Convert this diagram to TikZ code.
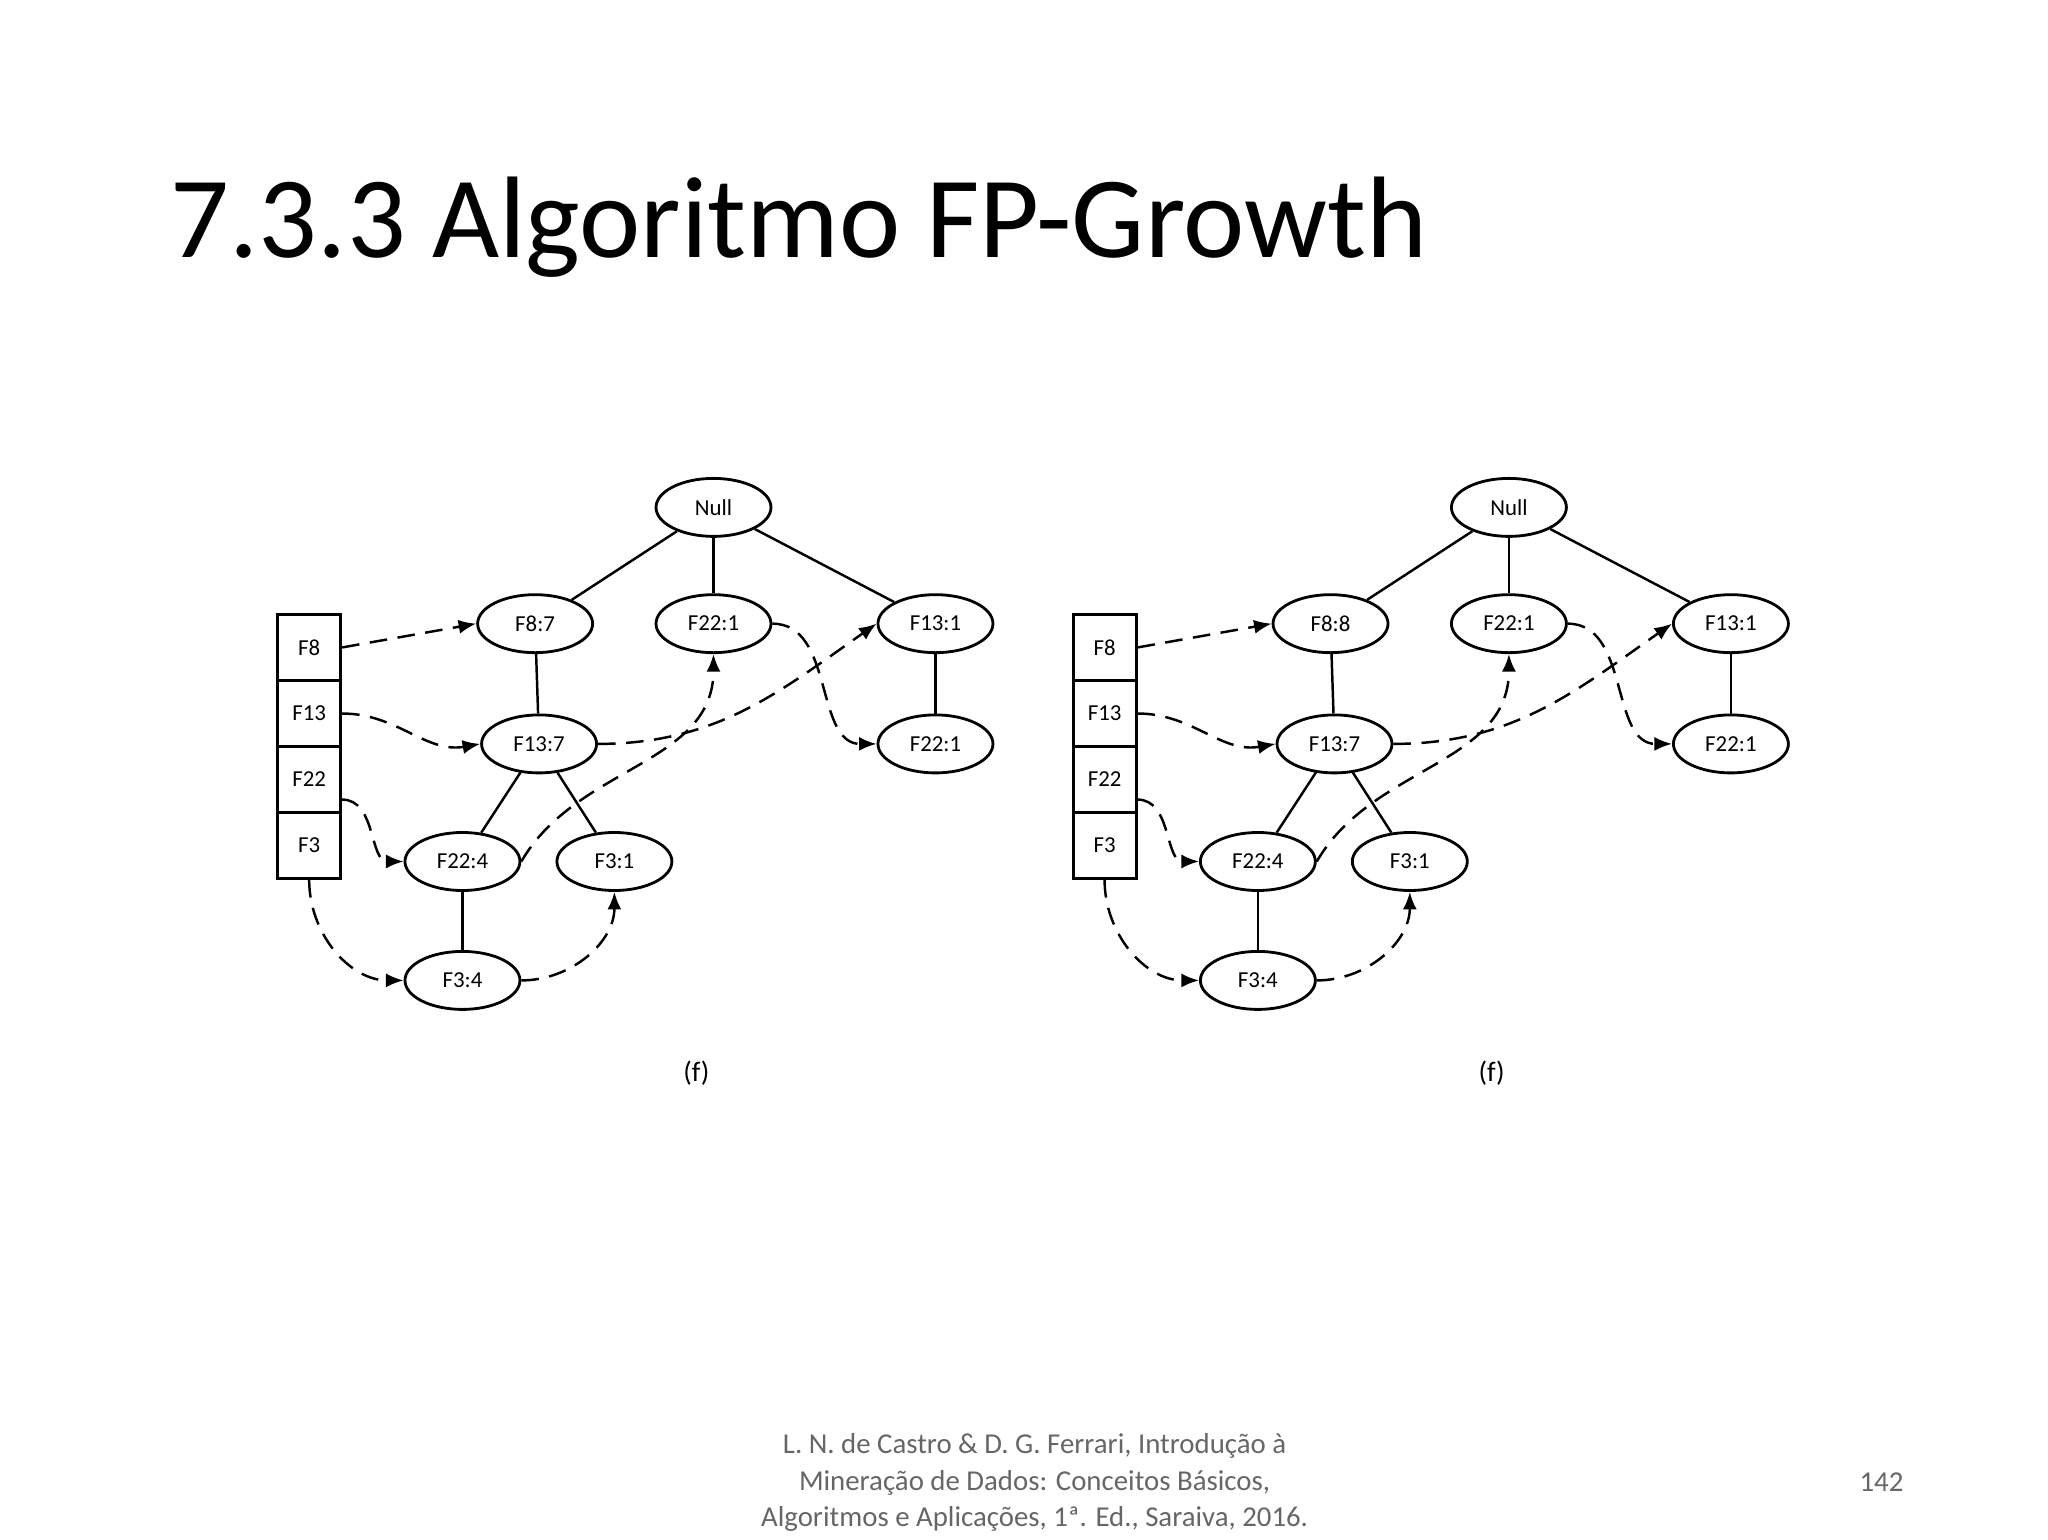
\documentclass[tikz,border=0pt]{standalone}
\usepackage{fontspec}
\setmainfont{Carlito}
\usetikzlibrary{shapes.geometric,arrows.meta}
\tikzset{
 nd/.style={ellipse,draw,line width=0.8pt,minimum width=1.15cm,minimum height=0.58cm,inner sep=0pt,font=\fontsize{6.5}{7}\selectfont},
 hd/.style={rectangle,draw,line width=0.8pt,minimum width=0.63cm,minimum height=0.66cm,inner sep=0pt,font=\fontsize{6.5}{7}\selectfont},
 tl/.style={line width=0.7pt},
 lk/.style={line width=0.7pt,dash pattern=on 5pt off 3pt,-{Latex[length=5pt,width=4pt]}}
}
\newcommand\fptree[3]{%
\begin{scope}[shift={(#1,0)}]
\node[nd] (#2null) at (540,384) {Null};
\node[nd] (#2f8) at (405,472) {#3};
\node[nd] (#2f22a) at (540,472) {F22:1};
\node[nd] (#2f13a) at (708,472) {F13:1};
\node[nd] (#2f22b) at (708,563) {F22:1};
\node[nd] (#2f13) at (408,563) {F13:7};
\node[nd] (#2f22c) at (350,652) {F22:4};
\node[nd] (#2f3a) at (465,652) {F3:1};
\node[nd] (#2f3b) at (350,742) {F3:4};
\node[hd] (#2h8) at (234,490) {F8};
\node[hd] (#2h13) at (234,540) {F13};
\node[hd] (#2h22) at (234,590) {F22};
\node[hd] (#2h3) at (234,640) {F3};
\node[font=\fontsize{8}{9}\selectfont] (#2cap) at (527,812) {(f)};
\draw[tl] (#2null) -- (#2f8); \draw[tl] (#2null) -- (#2f22a); \draw[tl] (#2null) -- (#2f13a);
\draw[tl] (#2f8) -- (#2f13); \draw[tl] (#2f13a) -- (#2f22b);
\draw[tl] (#2f13) -- (#2f22c); \draw[tl] (#2f13) -- (#2f3a); \draw[tl] (#2f22c) -- (#2f3b);
\draw[lk] (#2h8.east) -- (#2f8.west);
\draw[lk] (#2h13.east) to[out=0,in=190] (#2f13.west);
\draw[lk] ([yshift=-0.2cm]#2h22.east) to[out=0,in=180] (#2f22c.west);
\draw[lk] (#2h3.south) to[out=-90,in=180] (#2f3b.west);
\draw[lk] (#2f3b.east) to[out=0,in=-90] (#2f3a.south);
\draw[lk] (#2f13.east) to[out=0,in=215] (#2f13a.west);
\draw[lk] (#2f22a.east) to[out=0,in=180] (#2f22b.west);
\draw[lk] (#2f22c.east) to[out=60,in=-90] (#2f22a.south);
\end{scope}}
\begin{document}
\begin{tikzpicture}[x=0.013213cm,y=-0.013213cm]
\useasboundingbox (0,0) rectangle (1550,1165);
\node[anchor=west,font=\fontsize{33}{36}\selectfont] (title) at (120,172) {7.3.3 Algoritmo FP-Growth};
\fptree{0}{L}{F8:7}
\fptree{602}{R}{F8:8}
\node[align=center,text=black!60,font=\fontsize{8.2}{10.5}\selectfont] (ref) at (783,1122) {L. N. de Castro \& D. G. Ferrari, Introdução à\\Mineração de Dados: Conceitos Básicos,\\Algoritmos e Aplicações, 1ª. Ed., Saraiva, 2016.};
\node[text=black!60,font=\fontsize{8.2}{10}\selectfont] (pg) at (1424,1122) {142};
\end{tikzpicture}
\end{document}
